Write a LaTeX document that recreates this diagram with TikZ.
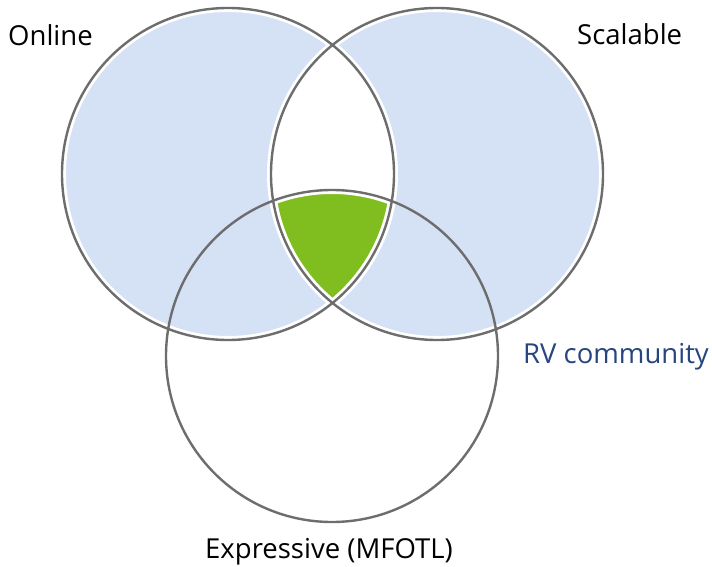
\documentclass[tikz,border=0pt]{standalone}
\usepackage{fontspec}
\setmainfont{Open Sans}
\definecolor{vblue}{HTML}{D5E1F5}
\definecolor{vgreen}{HTML}{80BD1F}
\definecolor{vgray}{HTML}{6D6D6D}
\definecolor{rvblue}{HTML}{27457F}
\tikzset{
  lbl/.style={inner sep=0pt, anchor=base west, font=\fontsize{27.5}{33}\selectfont},
  ring/.style={draw=vgray, line width=2.4pt},
  halo/.style={draw=white, line width=8pt}
}
\begin{document}
\begin{tikzpicture}[x=1pt,y=1pt]
\useasboundingbox (0,0) rectangle (712,566);
\coordinate (L) at (228,392);
\coordinate (R) at (437,392);
\coordinate (B) at (332,210);
% blue: left xor right
\fill[vblue, even odd rule] (L) circle[radius=166] (R) circle[radius=166];
% green: all three
\begin{scope}
  \clip (L) circle[radius=166];
  \clip (R) circle[radius=166];
  \fill[vgreen] (B) circle[radius=166];
  \draw[halo] (B) circle[radius=166];
\end{scope}
\draw[halo] (L) circle[radius=166];
\draw[halo] (R) circle[radius=166];
\draw[ring] (L) circle[radius=166];
\draw[ring] (R) circle[radius=166];
\draw[ring] (B) circle[radius=166];
\node[lbl] (online) at (8,520) {Online};
\node[lbl] (scalable) at (577,521) {Scalable};
\node[lbl, text=rvblue] (rv) at (523,203) {RV community};
\node[lbl] (expr) at (205,8) {Expressive (MFOTL)};
\end{tikzpicture}
\end{document}
